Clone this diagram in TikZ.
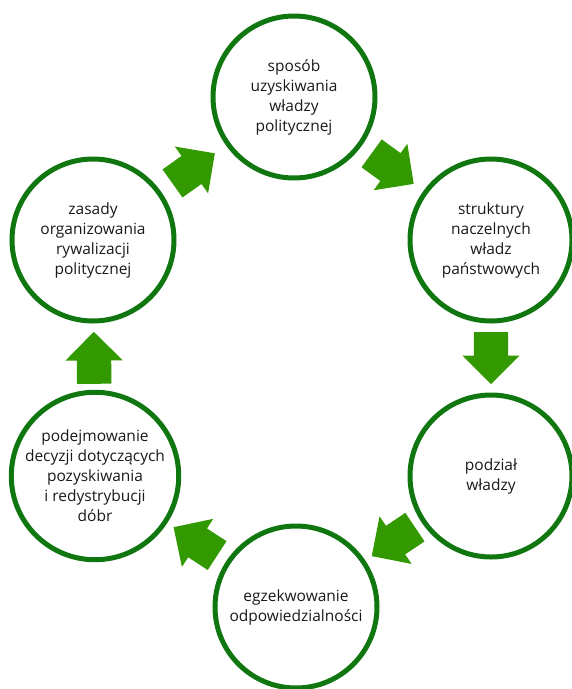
\documentclass[tikz,border=0pt]{standalone}
\usepackage{fontspec}
\setmainfont{Open Sans}
\usetikzlibrary{shapes.arrows,calc}
\definecolor{ringgreen}{RGB}{16,118,16}
\definecolor{arrowgreen}{RGB}{51,153,0}

\begin{document}
\begin{tikzpicture}[x=1pt, y=-1pt,
  topic/.style={circle, draw=ringgreen, line width=5pt, minimum size=162pt,
    inner sep=0pt, align=center, text=black!90,
    font=\fontsize{15.5}{20}\selectfont},
  flow/.style={single arrow, fill=arrowgreen, inner xsep=0pt, inner ysep=17pt,
    minimum height=52pt, single arrow head extend=11.5pt, anchor=tail}]
  \useasboundingbox (0,0) rectangle (572,689);
  \node[topic] (N1) at (294,97)  {sposób\\uzyskiwania\\władzy\\politycznej};
  \node[topic] (N2) at (491,240) {struktury\\naczelnych\\władz\\państwowych};
  \node[topic] (N3) at (491,476) {podział\\władzy};
  \node[topic] (N4) at (296,607) {egzekwowanie\\odpowiedzialności};
  \node[topic] (N5) at (95,476)  {podejmowanie\\decyzji dotyczących\\pozyskiwania\\i redystrybucji\\dóbr};
  \node[topic] (N6) at (93,240)  {zasady\\organizowania\\rywalizacji\\politycznej};
  \foreach \a/\b in {N6/N1, N1/N2, N2/N3, N3/N4, N4/N5, N5/N6}
    \path let \p1 = ($(\b)-(\a)$), \n1 = {atan2(\y1,\x1)} in
      node[flow, rotate=\n1] at ($(\a)!0.5!(\b)!26pt!(\a)$) {};
\end{tikzpicture}
\end{document}
